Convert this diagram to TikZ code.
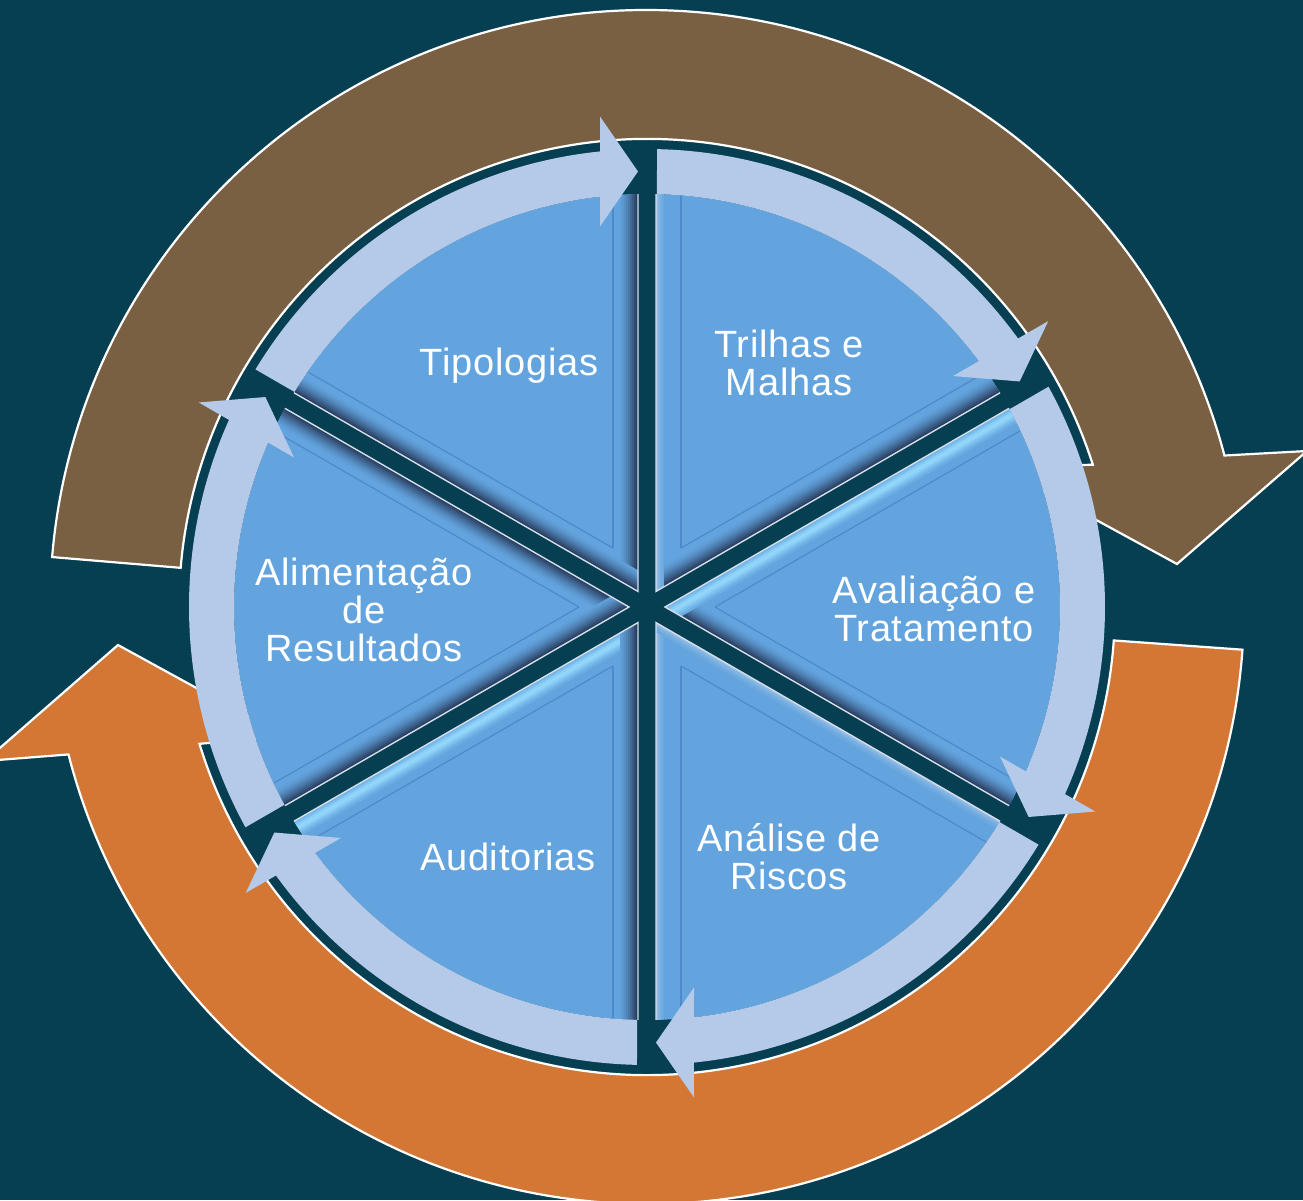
\documentclass[tikz,border=0pt]{standalone}
\usepackage{fontspec}
\setmainfont{Liberation Sans}
\newfontfamily\labfont[LetterSpace=2]{Liberation Sans}
\definecolor{bg}{RGB}{7,63,82}
\definecolor{brownband}{RGB}{122,96,66}
\definecolor{orangeband}{RGB}{212,118,52}
\definecolor{ringblue}{RGB}{180,202,232}
\definecolor{wedgeblue}{RGB}{99,164,223}
\definecolor{bevelc}{RGB}{78,138,202}
\definecolor{shadowc}{RGB}{30,42,70}
\definecolor{lightc}{RGB}{150,218,252}
\definecolor{edgehl}{RGB}{212,222,234}
\newcommand\stripD{\foreach \k/\p in {0/85,1/72,2/60,3/48,4/37,5/27,6/18,7/10,8/4}{\fill[shadowc!\p!wedgeblue] (0,9+2*\k) rectangle (430,11.3+2*\k);}}
\newcommand\stripL{\foreach \k/\p in {0/45,1/30,2/18,3/8}{\fill[edgehl!\p!wedgeblue] (0,9+2*\k) rectangle (430,11.3+2*\k);}}
\newcommand\stripC{\foreach \k/\p in {0/25,1/50,2/78,3/95,4/85,5/62,6/38,7/18}{\fill[lightc!\p!wedgeblue] (0,9+2*\k) rectangle (430,11.3+2*\k);}}
\begin{document}
\begin{tikzpicture}[x=1pt,y=1pt,
  band/.style={draw=white, line width=2.2pt, line join=miter},
  ringseg/.style={fill=ringblue},
  wedgefill/.style={fill=wedgeblue},
  bevelline/.style={draw=bevelc, line width=1.2pt},
  edgeline/.style={draw=edgehl, line width=1.4pt},
  lab/.style={text=white, font=\labfont\fontsize{38}{38}\selectfont, inner sep=0pt, anchor=base}]
\fill[bg] (-647,-593) rectangle (656,607);
\useasboundingbox (-647,-593) rectangle (656,607);

% brown circular arrow (top)
\draw[band, fill=brownband] (175.2:597) arc[start angle=175.2, end angle=14.7, radius=597]
  -- (660,156) -- (530,43) -- (352,140) -- (17.7:468)
  arc[start angle=17.7, end angle=175.2, radius=468] -- cycle;
% orange circular arrow (bottom)
\draw[band, fill=orangeband] (-4.1:597) arc[start angle=-4.1, end angle=-165.7, radius=597]
  -- (-662,-154) -- (-529,-38) -- (-363,-129) -- (-163:468)
  arc[start angle=-163, end angle=-4.1, radius=468] -- cycle;

% wedges
\foreach \c/\lo/\up in {120/D/D, 60/D/L, 0/D/C, -60/L/L, -120/C/D, 180/D/D}{
  \begin{scope}[rotate=\c-30]
    \fill[wedgefill] (15.59,9) -- (1.249:413) arc[start angle=1.249, end angle=58.751, radius=413] -- cycle;
    \begin{scope}
      \clip (15.59,9) -- (1.249:413) arc[start angle=1.249, end angle=58.751, radius=413] -- cycle;
      \csname strip\lo\endcsname
      \begin{scope}[rotate=60, yscale=-1]
        \csname strip\up\endcsname
      \end{scope}
      \draw[bevelline] (58.9,34) -- (430,34);
      \draw[bevelline] (58.9,34) -- ++(60:430);
    \end{scope}
    \draw[edgeline] (1.249:413) -- (15.59,9) -- (58.751:413);
  \end{scope}
}

% light-blue ring segments with arrowheads
\foreach \b in {90,30,-30,-90,-150,150}{
  \fill[ringseg, rotate=\b] (58.749:458) arc[start angle=58.749, end angle=5.890, radius=458]
    -- (490.5,47) -- (435.5,9) -- (380.5,47) -- (6.534:413)
    arc[start angle=6.534, end angle=58.613, radius=413] -- cycle;
}

% labels
\node[lab] (tipologias) at (-138,232) {Tipologias};
\node[lab] (trilhas1) at (142,250) {Trilhas e};
\node[lab] (trilhas2) at (142,212) {Malhas};
\node[lab] (avaliacao1) at (287,4) {Avaliação e};
\node[lab] (avaliacao2) at (287,-34) {Tratamento};
\node[lab] (analise1) at (142,-244) {Análise de};
\node[lab] (analise2) at (142,-282) {Riscos};
\node[lab] (auditorias) at (-139,-263) {Auditorias};
\node[lab] (alimentacao1) at (-283,22) {Alimentação};
\node[lab] (alimentacao2) at (-283,-16) {de};
\node[lab] (alimentacao3) at (-283,-54) {Resultados};
\end{tikzpicture}
\end{document}
